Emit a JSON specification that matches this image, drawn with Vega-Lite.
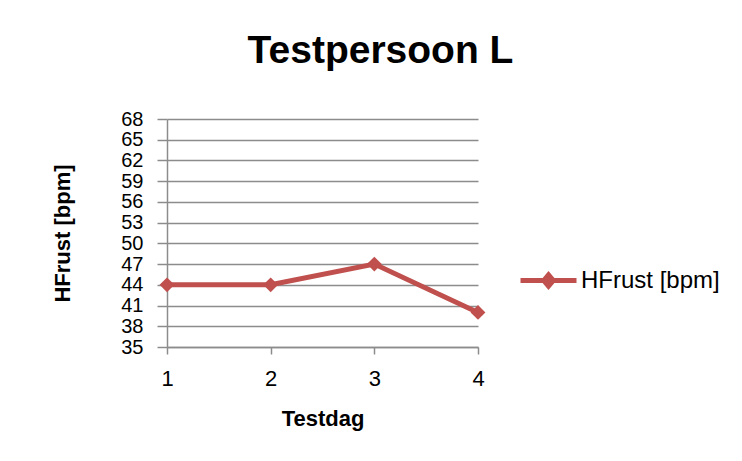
{
  "$schema": "https://vega.github.io/schema/vega-lite/v6.json",
  "width": 311,
  "height": 228,
  "autosize": "none",
  "padding": {"left": 167, "top": 119, "right": 264, "bottom": 114},
  "background": "white",
  "title": {
    "text": "Testpersoon L",
    "font": "Liberation Sans",
    "fontSize": 39,
    "fontWeight": "bold",
    "color": "black",
    "anchor": "middle",
    "dx": 58,
    "offset": 38
  },
  "data": {
    "values": [
      {"Testdag": 1, "HFrust": 44, "Reeks": "HFrust [bpm]"},
      {"Testdag": 2, "HFrust": 44, "Reeks": "HFrust [bpm]"},
      {"Testdag": 3, "HFrust": 47, "Reeks": "HFrust [bpm]"},
      {"Testdag": 4, "HFrust": 40, "Reeks": "HFrust [bpm]"}
    ]
  },
  "config": {
    "view": {"stroke": null},
    "axis": {
      "labelFont": "Liberation Sans",
      "labelFontSize": 20,
      "labelColor": "black",
      "labelOverlap": false,
      "titleFont": "Liberation Sans",
      "titleFontSize": 22,
      "titleFontWeight": "bold",
      "titleColor": "black",
      "domainColor": "#8c8c8c",
      "domainWidth": 1.5,
      "tickColor": "#8c8c8c",
      "tickWidth": 1.5,
      "gridColor": "#8c8c8c",
      "gridWidth": 1.5
    }
  },
  "encoding": {
    "x": {
      "field": "Testdag",
      "type": "ordinal",
      "scale": {"type": "point", "padding": 0},
      "axis": {
        "title": "Testdag",
        "labelAngle": 0,
        "labelFontSize": 22,
        "tickSize": 7,
        "labelPadding": 14,
        "titlePadding": 19,
        "grid": false
      }
    },
    "y": {
      "field": "HFrust",
      "type": "quantitative",
      "scale": {"domain": [35, 68], "nice": false, "zero": false},
      "axis": {
        "title": "HFrust  [bpm]",
        "values": [35, 38, 41, 44, 47, 50, 53, 56, 59, 62, 65, 68],
        "tickSize": 10,
        "labelPadding": 14,
        "titlePadding": 46,
        "grid": true
      }
    },
    "color": {
      "field": "Reeks",
      "type": "nominal",
      "scale": {"range": ["#C0504D"]},
      "legend": {
        "title": null,
        "orient": "none",
        "legendX": 351,
        "legendY": 131,
        "labelFont": "Liberation Sans",
        "labelFontSize": 24,
        "labelColor": "black",
        "labelOffset": 2,
        "symbolSize": 3136,
        "symbolType": "M-1,0H1M-0.17,0L0,-0.2L0.17,0L0,0.2Z",
        "symbolStrokeWidth": 5,
        "symbolFillColor": "#C0504D",
        "symbolStrokeColor": "#C0504D",
        "encode": {
          "symbols": {
            "update": {
              "fill": {"value": "#C0504D"},
              "stroke": {"value": "#C0504D"},
              "strokeWidth": {"value": 5},
              "shape": {"value": "M-1,0H1M-0.17,0L0,-0.2L0.17,0L0,0.2Z"},
              "size": {"value": 3136},
              "opacity": {"value": 1}
            }
          }
        }
      }
    }
  },
  "layer": [
    {"mark": {"type": "line", "strokeWidth": 5}},
    {"mark": {"type": "point", "shape": "diamond", "filled": true, "size": 220, "opacity": 1}}
  ]
}
